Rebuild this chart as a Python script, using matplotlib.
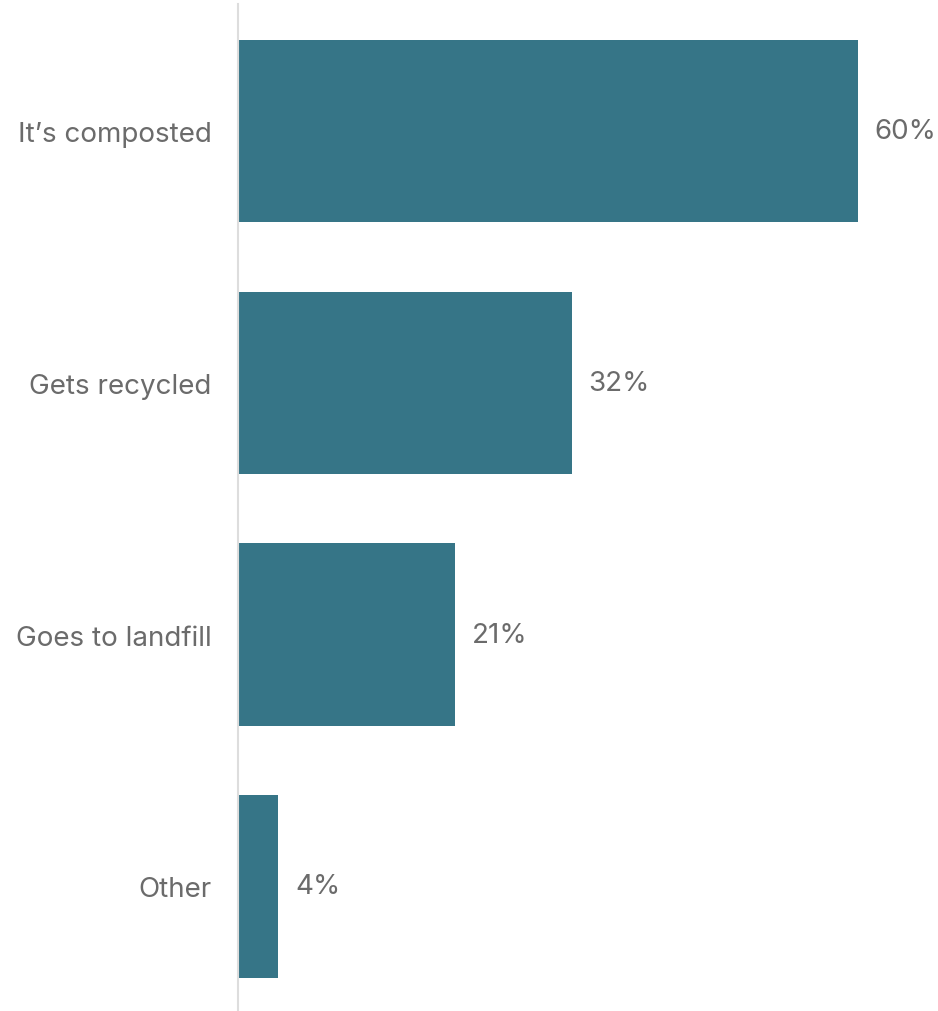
import matplotlib.pyplot as plt

categories = ["It\u2019s composted", "Gets recycled", "Goes to landfill", "Other"]
values = [60, 32.3, 21, 3.9]
value_labels = ["60%", "32%", "21%", "4%"]

bar_color = "#367587"
text_color = "#6b6b6b"

plt.rcParams['font.family'] = ['Inter', 'DejaVu Sans']

W, H = 938, 1012
fig = plt.figure(figsize=(W / 100, H / 100), dpi=100)
ax = fig.add_axes([238 / W, 0, 700 / W, 1007 / H])

pos = list(range(len(categories)))
ax.barh(pos, values, height=0.725, color=bar_color)

px_per_unit = 620 / 60
ax.set_xlim(0, 700 / px_per_unit)
ax.set_ylim(3.495, -0.505)

for p, v, lab in zip(pos, values, value_labels):
    ax.annotate(lab, (v, p), xytext=(12, 0), textcoords="offset points",
                va="center", ha="left", fontsize=20, color=text_color)

ax.set_yticks(pos)
ax.set_yticklabels(categories, fontsize=20, color=text_color)
ax.tick_params(axis="y", length=0, pad=19)
ax.set_xticks([])

for s in ["top", "right", "bottom"]:
    ax.spines[s].set_visible(False)
ax.spines["left"].set_color("#dddddd")
ax.spines["left"].set_linewidth(1.5)

fig.savefig("out.png", dpi=100, facecolor="white")
